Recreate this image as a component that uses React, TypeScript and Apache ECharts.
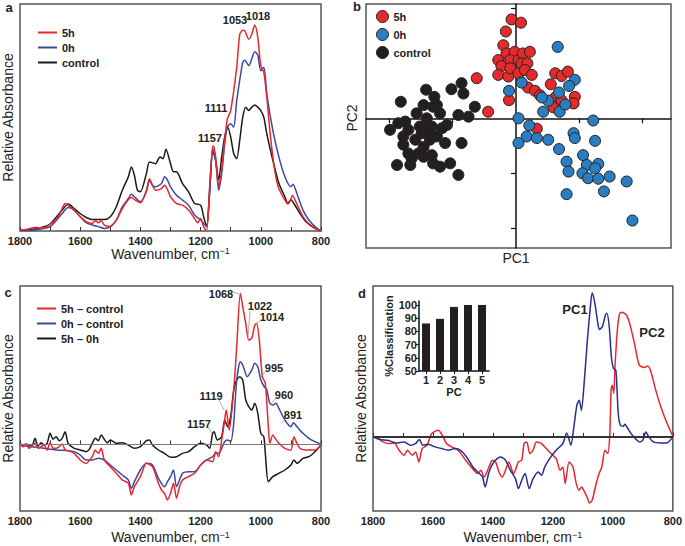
import React, { useEffect, useRef } from 'react';
import * as echarts from 'echarts';

const FONT = '"Liberation Sans", Arial, Helvetica, sans-serif';

// ---------- Panel a: spectra ----------
const aRedW = [1800,1780,1750,1720,1700,1680,1660,1650,1640,1620,1600,1580,1560,1550,1540,1530,1520,1500,1480,1460,1440,1430,1420,1400,1380,1370,1360,1350,1330,1320,1310,1300,1280,1260,1240,1220,1210,1200,1190,1180,1170,1160,1157,1150,1140,1130,1120,1111,1100,1080,1070,1060,1053,1040,1030,1020,1010,1000,990,980,970,960,950,940,920,910,900,895,880,860,840,820,800];
const aRedV = [0.5,0.8,1.7,1.5,3.5,5.5,11.3,13.8,13,10.5,7.2,4.7,3.8,5.2,4.2,5.2,3,2.2,5.5,11.3,15.8,16.8,15.8,14.2,20.5,26.3,23,20.5,21.3,23,20.8,17.2,13.8,13,10.5,6.3,4.2,6.3,2.2,0,22.2,42.2,42.7,37.2,22.2,30.5,45.5,56.3,60.5,82.2,98.8,100.8,100.5,96.3,98.8,103.5,97.2,83,79.7,67.2,50.5,37.2,27.2,21.3,15.5,13.5,15.8,18,13.5,7.2,3.5,1.3,0];
const aBlueW = [1800,1750,1700,1660,1640,1620,1600,1580,1560,1540,1520,1500,1480,1460,1440,1430,1420,1400,1380,1370,1360,1350,1330,1320,1310,1300,1280,1260,1240,1220,1200,1190,1180,1170,1160,1150,1140,1130,1120,1111,1100,1090,1080,1060,1053,1040,1020,1010,1000,990,980,960,940,920,900,893,880,860,840,820,800];
const aBlueV = [0.2,0.5,2.2,8.8,11.8,10.5,7.2,4.2,3,2.2,1.3,2.2,5.5,12.2,16.3,18.5,17.2,14.7,19.7,25.5,23,22.2,23.8,27.2,25.5,22.2,18,15.5,13,8,5.5,3.8,2.2,20.5,41.3,35.5,20.5,28.8,43.8,52.2,53.8,52.2,65.5,84.7,85.8,83,90,88.3,80.5,82.2,68.8,50.5,37.2,27.2,22.2,23.5,18.8,10.5,5.5,2.2,0];
const aBlackW = [1800,1760,1720,1700,1660,1640,1620,1600,1580,1560,1520,1500,1480,1460,1440,1430,1420,1410,1400,1380,1370,1350,1335,1325,1315,1300,1290,1280,1260,1240,1220,1200,1190,1180,1170,1160,1150,1140,1130,1120,1110,1100,1090,1080,1070,1060,1050,1040,1030,1020,1010,1000,990,980,960,940,920,910,900,890,870,850,820,800];
const aBlackV = [0.5,0.8,2.2,3.5,10.5,13.5,11.3,8.8,6.8,5.8,5.8,7.2,12.2,20.5,27.2,32.2,28,20.5,19.7,28.8,34.7,33.8,37.2,36.3,41,33.8,29.7,29.7,23.8,19.7,13.8,13,7.2,2.2,18.8,40.5,35.5,25.5,37.2,47.2,52.2,47.2,38.8,36.3,45.5,57.2,62.2,60.5,62.2,63.3,62.2,60.5,57.2,48.8,35.5,24,17.2,13.8,15.8,13.8,8.8,4.7,1.3,0];

// ---------- Panel b: PCA scores [PC1, PC2] ----------
const bControl = [[-1.42,0.52],[-1.29,0.39],[-1.25,0.24],[-1.46,0.24],[-1.82,0.3],[-1.02,0.53],[-0.86,0.64],[-0.83,0.45],[-0.65,0.21],[-0.75,0.03],[-0.91,0.06],[-1.99,-0.21],[-1.86,-0.09],[-1.75,-0.06],[-1.7,-0.21],[-1.78,-0.33],[-1.49,-0.27],[-1.41,0],[-1.33,-0.15],[-1.17,-0.18],[-1.25,-0.33],[-1.36,-0.39],[-1.59,-0.39],[-1.46,-0.52],[-1.78,-0.48],[-1.7,-0.64],[-1.54,-0.64],[-1.65,-0.73],[-1.46,-0.7],[-1.33,-0.67],[-1.12,-0.45],[-1.04,-0.82],[-1.2,-0.88],[-1.31,-0.82],[-1.88,-0.85],[-1.67,-0.85],[-0.91,-1.03],[-0.86,-0.45],[-1.52,-0.15],[-1.36,-0.27],[-1.2,0.09],[-1.57,0.09],[-1.31,0.21],[-1.09,-0.12],[-1.44,-0.18]];
const b5h = [[-0.07,1.8],[0.08,1.74],[-0.16,1.58],[-0.2,1.33],[-0.15,1.18],[-0.02,1.21],[-0.28,1.06],[-0.23,0.95],[-0.09,1.06],[0.04,1.06],[0.11,1.18],[0.22,1.21],[0.09,1],[0.18,1],[-0.28,0.79],[-0.12,0.76],[-0.09,0.91],[0.04,0.82],[0.14,0.88],[0.25,0.79],[0.19,0.56],[0.3,0.5],[0.38,0.42],[-0.11,0.33],[-0.62,0.73],[-0.44,0.12],[0.33,-0.19],[0.62,0.82],[0.72,0.77],[0.82,0.85],[0.55,0.62],[0.62,0.38],[0.93,0.39],[0.91,0.27],[0.59,0.2],[0.72,0.33]];
const b0h = [[0.66,1.3],[0.93,0.7],[0.84,0.59],[0.68,0.47],[0.51,0.32],[0.41,0.38],[0.43,0.12],[0.69,0.12],[0.78,0.25],[0.09,0.65],[-0.11,0.5],[0.04,0],[0.21,-0.13],[1.22,-0.04],[0.91,-0.27],[0.93,-0.36],[1.25,-0.41],[0.17,-0.33],[0.33,-0.36],[0.04,-0.45],[0.51,-0.39],[0.68,-0.56],[1.06,-0.67],[0.8,-0.79],[1.12,-0.85],[1.3,-0.83],[1.25,-0.91],[0.83,-0.97],[1.05,-1],[1.14,-1.09],[1.3,-1.1],[1.48,-1.06],[1.75,-1.15],[0.8,-1.38],[1.39,-1.33],[1.84,-1.86]];
const bTicks = [-2,-1,1,2];

// ---------- Panel c: difference spectra ----------
const cRedW = [1800,1790,1780,1770,1760,1750,1740,1730,1720,1710,1700,1690,1680,1670,1660,1650,1640,1620,1600,1580,1560,1550,1540,1530,1520,1500,1480,1460,1440,1430,1420,1400,1380,1360,1340,1330,1320,1310,1300,1290,1280,1270,1260,1240,1220,1200,1180,1160,1150,1140,1130,1120,1115,1105,1090,1080,1068,1060,1050,1040,1030,1020,1014,1005,995,985,975,970,960,950,940,920,900,890,880,870,850,820,800];
const cRedV = [0.6,-1.4,-0.4,-2.4,-1,0.6,-2.4,-1.4,-0.4,-3.4,1,-2.4,-2.4,-1.4,0.2,-3.4,-3.8,-5.4,-9.4,-11.4,-7.4,-3.4,-5.4,-2.4,-9.4,-13.4,-17.4,-21.4,-23.4,-30.4,-25.4,-19.4,-11.4,-13.4,-23.4,-27.4,-29.4,-33.4,-29.4,-23.4,-32.4,-25.4,-21.4,-19.4,-17.4,-12.4,-9.4,-10.4,-4.4,-7.4,2.6,14.6,20.6,8.6,32.6,58.6,90.6,82.6,72.6,62.6,63.6,71.6,72.6,62.6,40.6,36.6,10.6,0.6,5.6,3,0.6,-2.4,-3.4,4.6,0.6,-2.4,-3.4,-3.4,-0.4];
const cBlueW = [1800,1760,1720,1680,1640,1620,1600,1580,1560,1540,1520,1500,1480,1460,1440,1430,1420,1400,1380,1360,1340,1320,1310,1300,1290,1280,1260,1240,1220,1200,1180,1160,1150,1140,1120,1110,1100,1090,1080,1068,1060,1045,1030,1020,1010,1000,990,980,970,960,950,940,920,900,891,880,860,840,820,800];
const cBlueV = [-0.4,-1.4,-2.4,-3.4,-3.8,-4.4,-6.4,-9.4,-9.4,-8.4,-9.4,-12.4,-15.4,-18.4,-21.4,-26.4,-22.4,-15.4,-11.4,-12.4,-20.4,-25.4,-22.4,-19.4,-15.4,-25.4,-17.4,-16.4,-16.4,-12.4,-9.4,-7.4,-5.4,-5.4,1.6,2.6,1.6,12.6,38.6,49.6,47.6,40.6,44.6,48.6,46.6,38.6,35,32.6,24.6,23.6,24.6,21.6,14.6,10.6,13,10.6,6.6,3.6,1.6,0];
const cBlackW = [1800,1790,1780,1770,1760,1750,1740,1730,1720,1710,1700,1690,1680,1670,1660,1650,1640,1620,1600,1580,1570,1560,1550,1540,1530,1520,1510,1500,1490,1480,1460,1440,1420,1400,1380,1370,1360,1340,1320,1300,1280,1260,1240,1220,1200,1180,1170,1160,1155,1145,1130,1120,1110,1100,1090,1080,1070,1060,1050,1040,1030,1020,1010,1000,990,985,975,960,940,920,900,890,880,860,840,820,800];
const cBlackV = [0.6,-1,0.2,-0.4,-0.4,3.6,-1,1,-0.4,0.6,6.6,3,4.6,2.2,3.6,7.6,0.6,-2.4,-3.4,-4.4,-3,0.6,3.6,2.2,5.6,3,1,2.6,1.6,0.6,1,-0.4,-2.4,-1.4,2.2,2.6,-0.4,-3.4,-5.4,-7.8,-7.4,-5.4,-4.4,-1.4,0.6,-0.4,-2.4,6.6,7.6,2.6,4.6,14.6,10.6,16.6,32.6,38.6,40.6,38.6,26.6,22.6,20.6,24.6,18.6,6.6,4.6,-5.4,-22.4,-19.4,-17.4,-15.4,-12.4,-9.4,-11.4,-8.4,-7.4,-4.4,-0.4];

// ---------- Panel d: loadings ----------
const dPC1W = [1800,1778,1751,1724,1696,1675,1658,1645,1634,1615,1593,1571,1549,1527,1506,1484,1467,1451,1435,1426,1413,1397,1375,1358,1342,1325,1315,1304,1293,1279,1266,1249,1238,1227,1211,1189,1167,1154,1140,1130,1120,1112,1105,1095,1085,1075,1069,1060,1050,1045,1035,1025,1020,1012,1005,998,990,982,975,965,960,950,935,910,900,890,880,865,840,820,800];
const dPC1V = [0,-1.6,-2,-3.6,-3,-5,-4,-1.6,-5,-4.4,-6,-7,-8,-7,-8.4,-13,-18,-21,-24,-30,-21,-15,-12,-14,-20,-25,-31,-26,-22,-31,-25,-21,-23,-18,-13,-8,-4,2.4,-5,6,19,22,16,34,58,78,86.4,80,68,64.4,66,73,74,66,48,41,40,14,7,6.4,7.6,5,1,-3,-2,3,0,-3,-3.6,-3.6,0];
const dPC2W = [1800,1780,1767,1745,1729,1713,1696,1685,1669,1658,1647,1636,1620,1604,1582,1566,1555,1538,1516,1495,1473,1451,1440,1429,1413,1402,1391,1380,1369,1358,1347,1331,1315,1304,1296,1287,1277,1266,1255,1238,1222,1206,1189,1176,1167,1159,1146,1133,1122,1113,1104,1097,1086,1078,1069,1061,1048,1037,1026,1017,1010,1006,1002,997,993,984,977,969,955,944,928,912,895,884,873,857,840,819,800];
const dPC2V = [0,-1,-3,-4,-3.6,-8,-11,-8,-11,-9,-15,-7,-5,2,4,0,-4,-6,-8,-13,-18,-22,-20,-24,-18,-14,-15,-21,-24,-20,-15,-22,-15,-14,-4,-3,-10,-8,-3,-4,-7,-10,-13,-20,-18,-28,-15,-18,-28,-32,-30,-32,-36,-39.6,-38,-32,-23,-18,-8,-10,2,28,31,26,42,66,74,74.6,73,68,56,43,41.6,42.4,39,28,18,8,0.4];

// inset: classification accuracy
const insetPC = ['1','2','3','4','5'];
const insetAcc = [86, 89.5, 98.5, 100, 100];
const insetTicks = [50,60,70,80,90,100];

const zip = (w: number[], v: number[]) => w.map((x, i) => [x, v[i]]);

const RED = '#e8262d';
const BLUE = '#3a4a9f';
const NAVY = '#262f8a';
const BLACK = '#1a1a1a';
const TXT = '#222';

const specX = (gi: number, nameGap: number) => ({
  gridIndex: gi, type: 'value', inverse: true, min: 800, max: 1800, interval: 100,
  axisLine: { show: false }, splitLine: { show: false },
  axisTick: { show: true, inside: true, length: 4, lineStyle: { color: '#333', width: 1 } },
  axisLabel: {
    margin: 4, fontSize: 11, fontWeight: 'bold', color: TXT, fontFamily: FONT,
    formatter: (v: number) => (v % 200 === 0 ? String(v) : ''),
    showMinLabel: true, showMaxLabel: true,
  },
  name: 'Wavenumber, cm{sup|\u22121}', nameLocation: 'middle', nameGap,
  nameTextStyle: {
    fontSize: 14, color: TXT, fontFamily: FONT,
    rich: { sup: { fontSize: 9, verticalAlign: 'top', fontFamily: FONT, color: TXT } },
  },
});

const specY = (gi: number, min: number, max: number) => ({
  gridIndex: gi, type: 'value', min, max,
  axisLine: { show: false }, axisTick: { show: false }, axisLabel: { show: false }, splitLine: { show: false },
  name: 'Relative Absorbance', nameLocation: 'middle', nameGap: 5,
  nameTextStyle: { fontSize: 14, color: TXT, fontFamily: FONT },
});

const line = (name: string, ai: number, data: number[][], color: string, z = 2) => ({
  type: 'line', name, xAxisIndex: ai, yAxisIndex: ai, data, showSymbol: false, symbol: 'none',
  smooth: 0.25, lineStyle: { color, width: 1.5 }, itemStyle: { color }, z, silent: true,
});

const scatter = (name: string, data: number[][], color: string) => ({
  type: 'scatter', name, xAxisIndex: 1, yAxisIndex: 1, data, symbolSize: 11,
  itemStyle: { color, borderColor: '#222', borderWidth: 1, opacity: 1 }, silent: true,
});

const T = (text: string, x: number, y: number, size = 11, weight = 'bold', rot = 0) => ({
  type: 'text', x, y, rotation: rot, silent: true, z: 50,
  style: {
    text, fill: TXT, font: `${weight} ${size}px ${FONT}`,
    align: 'center', verticalAlign: 'middle', textAlign: 'center', textVerticalAlign: 'middle',
  },
});
const L = (x1: number, y1: number, x2: number, y2: number) => ({
  type: 'line', silent: true, z: 50, shape: { x1, y1, x2, y2 }, style: { stroke: '#9a9a9a', lineWidth: 0.8 },
});

const frame = { show: true, borderColor: '#555', borderWidth: 1.5, backgroundColor: 'transparent' };

export default function App() {
  const ref = useRef<HTMLDivElement>(null);
  useEffect(() => {
    document.body.style.margin = '0';
    const chart = echarts.init(ref.current!, undefined, { renderer: 'svg' });
    const option: any = {
      animation: false,
      backgroundColor: '#fff',
      textStyle: { fontFamily: FONT },
      grid: [
        { left: 20, top: 4, width: 301, height: 227, ...frame },
        { left: 366, top: 4, width: 305, height: 244, ...frame },
        { left: 20, top: 286, width: 301, height: 225, ...frame },
        { left: 373, top: 286, width: 306, height: 225, ...frame },
        { left: 419, top: 301, width: 70, height: 70, show: false },
      ],
      xAxis: [
        specX(0, 15),
        {
          gridIndex: 1, type: 'value', min: -2.37, max: 2.45,
          axisLine: { onZero: true, lineStyle: { color: '#111', width: 1.5 } },
          axisTick: { show: true, customValues: bTicks, length: 5, lineStyle: { color: '#111', width: 1.2 } },
          axisLabel: { show: false }, splitLine: { show: false },
        },
        specX(2, 19),
        specX(3, 19),
        {
          gridIndex: 4, type: 'category', data: insetPC,
          axisLine: { lineStyle: { color: '#111', width: 1.5 } },
          axisTick: { show: true, alignWithLabel: true, length: 3, lineStyle: { color: '#111' } },
          axisLabel: { fontSize: 11, fontWeight: 'bold', color: TXT, margin: 3 },
          name: 'PC', nameLocation: 'middle', nameGap: 15,
          nameTextStyle: { fontSize: 11, fontWeight: 'bold', color: TXT },
        },
      ],
      yAxis: [
        specY(0, 0, 114),
        {
          gridIndex: 1, type: 'value', min: -2.36, max: 2.08,
          axisLine: { onZero: true, lineStyle: { color: '#111', width: 1.5 } },
          axisTick: { show: true, customValues: bTicks, length: 5, lineStyle: { color: '#111', width: 1.2 } },
          axisLabel: { show: false }, splitLine: { show: false },
        },
        specY(2, -40, 95),
        specY(3, -44.4, 90.4),
        {
          gridIndex: 4, type: 'value', min: 50, max: 103, interval: 10,
          axisLine: { show: true, lineStyle: { color: '#111', width: 1.5 } },
          axisTick: { show: true, customValues: insetTicks, length: 3, lineStyle: { color: '#111' } },
          axisLabel: {
            fontSize: 11, fontWeight: 'bold', color: TXT, margin: 2,
            formatter: (v: number) => (v % 10 === 0 ? String(v) : ''),
          },
          splitLine: { show: false },
          name: '%Classification', nameLocation: 'middle', nameGap: 23,
          nameTextStyle: { fontSize: 11, fontWeight: 'bold', color: TXT },
        },
      ],
      legend: [
        {
          left: 33, top: 22, orient: 'vertical', icon: 'rect', itemWidth: 19, itemHeight: 2, itemGap: 4,
          data: ['5h', '0h', 'control'],
          textStyle: { fontSize: 11, fontWeight: 'bold', color: TXT, fontFamily: FONT },
        },
        {
          left: 371, top: 5, orient: 'vertical', icon: 'circle', itemWidth: 12, itemHeight: 12, itemGap: 5,
          data: ['b5h', 'b0h', 'bctrl'],
          formatter: (n: string) => ({ b5h: '5h', b0h: '0h', bctrl: 'control' } as any)[n],
          itemStyle: { borderColor: '#222', borderWidth: 1 },
          textStyle: { fontSize: 11, fontWeight: 'bold', color: TXT, fontFamily: FONT },
        },
        {
          left: 32, top: 298, orient: 'vertical', icon: 'rect', itemWidth: 19, itemHeight: 2, itemGap: 4,
          data: ['5h \u2013 control', '0h \u2013 control', '5h \u2013 0h'],
          textStyle: { fontSize: 11, fontWeight: 'bold', color: TXT, fontFamily: FONT },
        },
      ],
      series: [
        line('control', 0, zip(aBlackW, aBlackV), BLACK, 2),
        line('0h', 0, zip(aBlueW, aBlueV), BLUE, 3),
        line('5h', 0, zip(aRedW, aRedV), RED, 4),

        scatter('bctrl', bControl, '#231f20'),
        scatter('b5h', b5h, '#e42a2a'),
        scatter('b0h', b0h, '#2a7dc0'),

        {
          ...line('5h \u2013 0h', 2, zip(cBlackW, cBlackV), BLACK, 3),
          markLine: {
            silent: true, symbol: 'none', label: { show: false },
            lineStyle: { color: '#7a7a7a', width: 1.2, type: 'solid' }, data: [{ yAxis: 0 }],
          },
        },
        line('0h \u2013 control', 2, zip(cBlueW, cBlueV), BLUE, 3),
        line('5h \u2013 control', 2, zip(cRedW, cRedV), RED, 4),

        {
          ...line('PC2', 3, zip(dPC2W, dPC2V), RED, 3),
          markLine: {
            silent: true, symbol: 'none', label: { show: false },
            lineStyle: { color: '#333', width: 1.8, type: 'solid' }, data: [{ yAxis: 0 }],
          },
        },
        line('PC1', 3, zip(dPC1W, dPC1V), NAVY, 4),

        {
          type: 'bar', name: 'cls', xAxisIndex: 4, yAxisIndex: 4, data: insetAcc, barWidth: 8,
          itemStyle: { color: '#231f20' }, silent: true,
        },
      ],
      graphic: [
        T('a', 9, 7, 13), T('b', 357, 6, 13), T('c', 8, 292, 13), T('d', 362, 293, 13),
        T('1053', 235, 20), T('1018', 258, 16), T('1111', 216, 108), T('1157', 210, 138),
        T('PC1', 516, 258, 14, 'normal'), T('PC2', 352, 118, 14, 'normal', Math.PI / 2),
        T('1068', 221, 294), T('1022', 260, 306), T('1014', 272, 317), T('995', 274, 368),
        T('960', 284, 395), T('891', 293, 415), T('1119', 211, 396), T('1157', 199, 424),
        L(233, 292, 239, 294), L(250, 311, 248, 337), L(261, 320, 256, 324), L(266, 371, 261, 377),
        L(276, 398, 271, 404), L(286, 418, 282, 423), L(219, 400, 224, 410), L(208, 427, 212, 433),
        T('PC1', 575, 309, 13), T('PC2', 652, 332, 13),
      ],
    };
    chart.setOption(option);
    return () => chart.dispose();
  }, []);
  return <div ref={ref} style={{ position: 'absolute', left: 0, top: 0, width: 685, height: 546 }} />;
}
